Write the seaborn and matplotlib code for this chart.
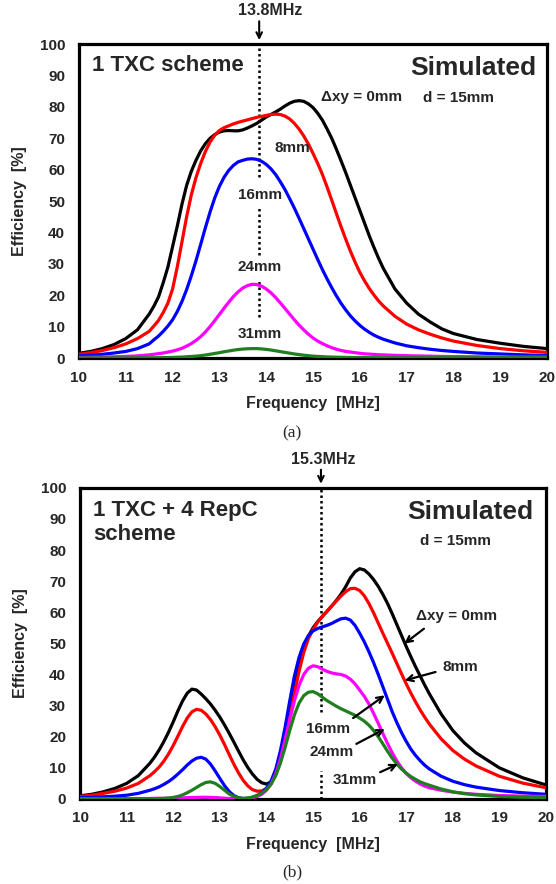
import numpy as np
import pandas as pd
import matplotlib
matplotlib.use("Agg")
import matplotlib.pyplot as plt
import seaborn as sns

# ---------------- data ----------------
offsets = ["0mm", "8mm", "16mm", "24mm", "31mm"]
colors = ["#000000", "#ff0000", "#0000ff", "#ff00ff", "#1f7f1f"]

# (a) 1 TXC scheme
freq_a = [10, 10.25, 10.5, 10.75, 11, 11.25, 11.5,
          11.6, 11.7, 11.8, 11.9, 12.0, 12.1, 12.2, 12.3, 12.4, 12.5,
          12.6, 12.7, 12.8, 12.9, 13.0, 13.1, 13.2, 13.3, 13.4, 13.5,
          13.6, 13.7, 13.8, 13.9, 14.0, 14.1, 14.2, 14.3, 14.4, 14.5,
          14.6, 14.7, 14.8, 14.9, 15.0, 15.1, 15.2, 15.3, 15.4, 15.5,
          15.6, 15.7, 15.8, 15.9, 16.0, 16.1, 16.2, 16.3, 16.4, 16.5,
          16.75, 17, 17.25, 17.5, 17.75, 18, 18.5, 19, 19.5, 20]
eff_a_0 = [1.5, 2.1, 3, 4.3, 6.2, 9, 14,
           16.5, 19.5, 24, 29, 35.5, 42, 49, 55, 59.5, 63,
           66, 68.3, 70, 71.2, 72, 72.4, 72.5, 72.4, 72.4, 72.7,
           73.3, 74, 74.8, 75.8, 76.8, 77.6, 78.4, 79.3, 80.3, 81.2,
           81.8, 82, 81.8, 81, 79.8, 78, 75.8, 73, 70, 66.5,
           62.8, 59, 55, 51, 47, 43, 39, 35.3, 31.8, 28.6,
           22, 17.5, 14, 11.5, 9.3, 7.8, 5.9, 4.7, 3.7, 3]
eff_a_8 = [1.2, 1.7, 2.4, 3.3, 4.5, 6.2, 8.5,
           10.2, 12, 14.5, 17.5, 22, 29, 37, 45, 52, 57.5,
           62, 65.8, 68.8, 71, 72.5, 73.4, 74, 74.6, 75.1, 75.5,
           75.9, 76.3, 76.7, 77, 77.3, 77.6, 77.7, 77.6, 77.1, 76.2,
           74.8, 73, 70.8, 68.2, 65.2, 62, 58.5, 54.5, 50.3, 46,
           41.8, 37.8, 34, 30.5, 27.3, 24.6, 22.2, 20.1, 18.2, 16.6,
           13.3, 10.8, 9, 7.6, 6.4, 5.4, 4, 3, 2.3, 1.8]
eff_a_16 = [0.7, 0.9, 1.2, 1.6, 2.1, 3, 4.5,
            5.8, 7, 8.5, 10.2, 12.2, 14.8, 18, 21.8, 26.2, 31,
            36.2, 41.5, 46.5, 51, 54.7, 57.6, 59.8, 61.4, 62.5, 63,
            63.4, 63.5, 63.3, 62.7, 61.7, 60.3, 58.5, 56.2, 53.7, 50.8,
            47.8, 44.6, 41.3, 38, 34.7, 31.4, 28.2, 25.2, 22.4, 19.8,
            17.4, 15.3, 13.4, 11.8, 10.4, 9.2, 8.2, 7.3, 6.6, 6,
            4.8, 3.9, 3.3, 2.8, 2.4, 2.1, 1.6, 1.3, 1, 0.8]
eff_a_24 = [0.2, 0.25, 0.3, 0.4, 0.5, 0.7, 1,
            1.2, 1.4, 1.6, 1.9, 2.2, 2.6, 3.1, 3.8, 4.6, 5.6,
            6.8, 8.3, 10, 11.9, 13.9, 15.9, 17.8, 19.6, 21.1, 22.3,
            23.1, 23.5, 23.4, 22.9, 22, 20.8, 19.3, 17.6, 15.8, 14,
            12.2, 10.5, 9, 7.6, 6.4, 5.4, 4.6, 3.9, 3.3, 2.8,
            2.4, 2.1, 1.9, 1.7, 1.5, 1.35, 1.25, 1.15, 1.05, 1,
            0.85, 0.75, 0.65, 0.6, 0.5, 0.45, 0.4, 0.35, 0.3, 0.3]
eff_a_31 = [0.05, 0.05, 0.05, 0.05, 0.05, 0.1, 0.1,
            0.1, 0.1, 0.15, 0.15, 0.2, 0.25, 0.3, 0.4, 0.5, 0.6,
            0.75, 0.95, 1.2, 1.45, 1.7, 2, 2.25, 2.5, 2.7, 2.85,
            2.95, 3, 3, 2.9, 2.75, 2.55, 2.3, 2.05, 1.8, 1.55,
            1.3, 1.1, 0.9, 0.75, 0.6, 0.5, 0.42, 0.35, 0.3, 0.26,
            0.23, 0.2, 0.18, 0.16, 0.15, 0.14, 0.13, 0.12, 0.11, 0.1,
            0.1, 0.1, 0.1, 0.1, 0.1, 0.1, 0.1, 0.1, 0.1, 0.1]

# (b) 1 TXC + 4 RepC scheme
freq_b = [10, 10.25, 10.5, 10.75, 11, 11.25, 11.5,
          11.6, 11.7, 11.8, 11.9, 12.0, 12.1, 12.2, 12.3, 12.4, 12.5,
          12.6, 12.7, 12.8, 12.9, 13.0, 13.1, 13.2, 13.3, 13.4, 13.5,
          13.6, 13.7, 13.8, 13.9, 14.0, 14.1, 14.2, 14.3, 14.4, 14.5,
          14.6, 14.7, 14.8, 14.9, 15.0, 15.1, 15.2, 15.3, 15.4, 15.5,
          15.6, 15.7, 15.8, 15.9, 16.0, 16.1, 16.2, 16.3, 16.4, 16.5,
          16.6, 16.7, 16.8, 16.9, 17.0, 17.1, 17.2, 17.3, 17.4, 17.5,
          17.75, 18, 18.25, 18.5, 19, 19.5, 20]
eff_b_0 = [1, 1.5, 2.3, 3.4, 5, 7.5, 11.5,
           13.5, 15.8, 18.5, 21.5, 24.8, 28.3, 31.5, 34, 35.3, 35,
           33.7, 32.2, 30.5, 28.5, 26.3, 23.8, 21.1, 18.3, 15.4, 12.6,
           10.1, 8, 6.3, 5.2, 4.8, 5.5, 8.2, 13.5, 20.5, 28,
           35.5, 42.5, 48.3, 52.3, 55, 57, 58.7, 60.3, 62, 63.8,
           65.8, 68.2, 71, 73, 74, 73.6, 72.3, 70.5, 68.3, 65.7,
           62.8, 59.5, 56, 52.5, 49, 45.7, 42.5, 39.5, 36.5, 33.7,
           27.3, 22, 18, 14.8, 10, 6.8, 4.5]
eff_b_8 = [0.8, 1.2, 1.8, 2.5, 3.5, 5, 7.5,
           8.8, 10.3, 12.2, 14.5, 17.2, 20.2, 23.3, 26, 28, 28.8,
           28.5, 27.3, 25.5, 23.2, 20.5, 17.5, 14.3, 11.2, 8.4, 6,
           4.2, 3, 2.5, 2.6, 3.3, 5, 8, 12.8, 19.2, 26.5,
           34, 41, 47, 51.5, 54.5, 56.8, 58.6, 60.3, 62, 63.6,
           65.2, 66.6, 67.6, 67.7, 67, 65.3, 62.8, 59.8, 56.5, 53.2,
           50, 46.8, 43.5, 40.2, 37, 34, 31.2, 28.6, 26.2, 24,
           19.3, 15.6, 12.8, 10.6, 7.3, 5.1, 3.6]
eff_b_16 = [0.4, 0.5, 0.7, 0.9, 1.2, 1.8, 2.8,
            3.3, 3.9, 4.7, 5.6, 6.7, 8, 9.4, 10.9, 12.2, 13.1,
            13.4, 12.8, 11.2, 9, 6.6, 4.3, 2.4, 1.1, 0.4, 0.15,
            0.2, 0.5, 1.1, 2, 3.4, 5.8, 9.6, 15.5, 23, 31.5,
            39.5, 45.5, 49.8, 52.5, 54, 54.8, 55.3, 55.8, 56.4, 57.2,
            57.9, 58.1, 57.5, 55.8, 53.3, 50.5, 47.3, 43.8, 40, 36,
            32, 28, 24.5, 21.3, 18.5, 16, 14, 12.3, 10.8, 9.6,
            7.3, 5.7, 4.6, 3.8, 2.7, 2, 1.5]
eff_b_24 = [0.1, 0.1, 0.1, 0.1, 0.1, 0.15, 0.15,
            0.2, 0.2, 0.2, 0.25, 0.25, 0.3, 0.35, 0.4, 0.45, 0.5,
            0.55, 0.55, 0.5, 0.45, 0.35, 0.25, 0.15, 0.1, 0.1, 0.1,
            0.2, 0.4, 0.8, 1.5, 2.8, 4.8, 8, 12.8, 19, 25.5,
            31.5, 36.5, 40, 42, 42.8, 42.5, 41.7, 41, 40.5, 40.2,
            40, 39.5, 38.5, 37, 35, 33, 30.5, 27.5, 24.3, 21,
            17.8, 14.8, 12.2, 10, 8.2, 6.8, 5.7, 4.8, 4.1, 3.6,
            2.8, 2.2, 1.8, 1.5, 1.1, 0.9, 0.8]
eff_b_31 = [0, 0, 0, 0, 0, 0.05, 0.1,
            0.1, 0.15, 0.2, 0.3, 0.5, 0.8, 1.3, 2, 2.8, 3.7,
            4.6, 5.3, 5.5, 5, 4, 2.8, 1.6, 0.8, 0.35, 0.2,
            0.3, 0.6, 1.1, 1.9, 3, 4.8, 7.5, 11.5, 16.5, 22,
            27, 30.8, 33.2, 34.3, 34.5, 33.8, 32.7, 31.6, 30.7, 29.8,
            29, 28.3, 27.6, 26.9, 26, 25, 23.7, 22, 20, 17.7,
            15.3, 13.1, 11.2, 9.6, 8.3, 7.2, 6.3, 5.5, 4.9, 4.4,
            3.2, 2.3, 1.7, 1.3, 0.8, 0.55, 0.4]

x_ticks = list(range(10, 21))
y_ticks = list(range(0, 101, 10))


def long_frame(freq, series):
    parts = []
    for name, vals in zip(offsets, series):
        parts.append(pd.DataFrame({"Frequency": freq, "Efficiency": vals, "offset": name}))
    return pd.concat(parts, ignore_index=True)


df_a = long_frame(freq_a, [eff_a_0, eff_a_8, eff_a_16, eff_a_24, eff_a_31])
df_b = long_frame(freq_b, [eff_b_0, eff_b_8, eff_b_16, eff_b_24, eff_b_31])

# ---------------- style ----------------
sns.set_style("white")
plt.rcParams["font.family"] = ["Liberation Sans", "DejaVu Sans"]
plt.rcParams["font.weight"] = "bold"
plt.rcParams["axes.labelweight"] = "bold"

fig = plt.figure(figsize=(5.56, 8.84), dpi=100)
ax1 = fig.add_axes([0.142, 0.595, 0.842, 0.355])
ax2 = fig.add_axes([0.144, 0.0962, 0.838, 0.352])

for ax, df in ((ax1, df_a), (ax2, df_b)):
    sns.lineplot(data=df, x="Frequency", y="Efficiency", hue="offset",
                 hue_order=offsets, palette=colors, linewidth=2.3,
                 estimator=None, legend=False, ax=ax, zorder=3)
    ax.set_xlim(10, 20)
    ax.set_ylim(0, 100)
    ax.set_xticks(x_ticks)
    ax.set_yticks(y_ticks)
    ax.tick_params(direction="in", length=4, width=2, labelsize=11)
    ax.tick_params(axis="x", pad=9)
    ax.tick_params(axis="y", pad=10)
    for s in ax.spines.values():
        s.set_linewidth(2.3)
        s.set_color("black")
    ax.set_xlabel("Frequency  [MHz]", fontsize=11.5, labelpad=8)
    ax.set_ylabel("Efficiency  [%]", fontsize=11.5, labelpad=9)

lbl = dict(fontsize=11, fontweight="bold", ha="center", va="center", zorder=5)
dot = dict(color="black", linestyle=(0, (1, 1.2)), linewidth=1.8, zorder=2)

# ---- panel (a) annotations ----
for y0, y1 in ((57.8, 99.5), (32.8, 48.2), (13, 24.8)):
    ax1.vlines(13.85, y0, y1, **dot)
ax1.text(10.28, 93.2, "1 TXC scheme", fontsize=16, fontweight="bold", ha="left", va="center")
ax1.text(19.77, 92.3, "Simulated", fontsize=19, fontweight="bold", ha="right", va="center")
ax1.text(16.04, 83.1, "\u0394xy = 0mm", **lbl)
ax1.text(18.11, 82.8, "d = 15mm", **lbl)
ax1.text(14.55, 66.8, "8mm", **lbl)
ax1.text(13.86, 52.1, "16mm", **lbl)
ax1.text(13.86, 29.0, "24mm", **lbl)
ax1.text(13.86, 7.8, "31mm", **lbl)
ax1.text(14.08, 110.8, "13.8MHz", fontsize=11.5, fontweight="bold", ha="center", va="center", clip_on=False)
ax1.annotate("", xy=(13.85, 101.3), xytext=(13.85, 107.3), annotation_clip=False,
             arrowprops=dict(arrowstyle="->", lw=1.5, color="black",
                             shrinkA=0, shrinkB=0, mutation_scale=10))

# ---- panel (b) annotations ----
for y0, y1 in ((27.9, 99.5), (0, 9.1)):
    ax2.vlines(15.17, y0, y1, **dot)
ax2.text(10.28, 88.9, "1 TXC + 4 RepC\nscheme", fontsize=16, fontweight="bold",
         ha="left", va="center", linespacing=1.2)
ax2.text(19.73, 92.3, "Simulated", fontsize=19, fontweight="bold", ha="right", va="center")
ax2.text(18.06, 82.8, "d = 15mm", **lbl)
ax2.text(15.22, 109.0, "15.3MHz", fontsize=11.5, fontweight="bold", ha="center", va="center", clip_on=False)
ax2.annotate("", xy=(15.17, 101.3), xytext=(15.17, 105.8), annotation_clip=False,
             arrowprops=dict(arrowstyle="->", lw=1.5, color="black",
                             shrinkA=0, shrinkB=0, mutation_scale=10))

arrow_kw = dict(arrowstyle="->", lw=1.6, color="black", shrinkA=0, shrinkB=0, mutation_scale=11)
ax2.text(18.08, 58.8, "\u0394xy = 0mm", **lbl)
ax2.annotate("", xy=(16.96, 49.9), xytext=(17.38, 54.7), arrowprops=arrow_kw, zorder=6)
ax2.text(18.17, 42.4, "8mm", **lbl)
ax2.annotate("", xy=(16.97, 38.1), xytext=(17.63, 40.8), arrowprops=arrow_kw, zorder=6)
ax2.text(15.32, 22.5, "16mm", **lbl)
ax2.annotate("", xy=(16.54, 33.3), xytext=(15.86, 26.0), arrowprops=arrow_kw, zorder=6)
ax2.text(15.40, 15.0, "24mm", **lbl)
ax2.annotate("", xy=(16.54, 22.5), xytext=(15.93, 17.7), arrowprops=arrow_kw, zorder=6)
ax2.text(15.89, 6.2, "31mm", **lbl)
ax2.annotate("", xy=(16.82, 11.2), xytext=(16.44, 8.6), arrowprops=arrow_kw, zorder=6)

# captions
fig.text(0.525, 1 - 433 / 884, "(a)", fontsize=12.5, fontweight="normal",
         family=["Liberation Serif", "DejaVu Serif"], ha="center", va="center")
fig.text(0.525, 1 - 872 / 884, "(b)", fontsize=12.5, fontweight="normal",
         family=["Liberation Serif", "DejaVu Serif"], ha="center", va="center")

fig.savefig("out.png", dpi=100)
